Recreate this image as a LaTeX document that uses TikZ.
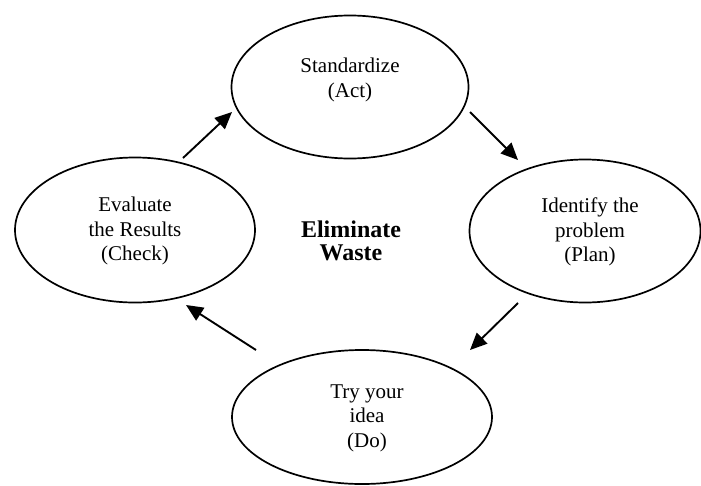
\documentclass[tikz,border=0pt]{standalone}
\usepackage{fontspec}
\setmainfont{Liberation Serif}
\usetikzlibrary{shapes.geometric,arrows.meta}
\begin{document}
\begin{tikzpicture}[x=1pt,y=-1pt,
  oval/.style={draw=black,line width=1.7pt,ellipse,inner sep=0pt},
  lbl/.style={align=center,font=\fontsize{21}{24.5}\selectfont,inner sep=0pt},
  flow/.style={line width=1.9pt,-{Triangle[length=17pt,width=15pt]}}]
\useasboundingbox (0,0) rectangle (701,485);
% ellipses
\node[oval,minimum width=237pt,minimum height=143pt] (act) at (350,87) {};
\node[oval,minimum width=231pt,minimum height=143pt] (plan) at (585,231) {};
\node[oval,minimum width=260pt,minimum height=134pt] (do) at (362,417) {};
\node[oval,minimum width=240pt,minimum height=145pt] (check) at (135,230) {};
% texts
\node[lbl] (tact) at (350,80) {Standardize\\(Act)};
\node[lbl] (tplan) at (590,232) {Identify the\\problem\\(Plan)};
\node[lbl] (tdo) at (367,418) {Try your\\idea\\(Do)};
\node[lbl] (tcheck) at (135,231) {Evaluate\\the Results\\(Check)};
\node[align=center,inner sep=0pt,font=\fontsize{24}{23}\selectfont\bfseries] (core) at (351,241) {Eliminate\\Waste};
% arrow end points
\coordinate (c1) at (183,158); \coordinate (c2) at (232,112);
\coordinate (c3) at (470,112); \coordinate (c4) at (518,160);
\coordinate (c5) at (518,303); \coordinate (c6) at (470,350);
\coordinate (c7) at (256,350); \coordinate (c8) at (186,305);
\draw[flow] (c1) -- (c2);
\draw[flow] (c3) -- (c4);
\draw[flow] (c5) -- (c6);
\draw[flow] (c7) -- (c8);
\end{tikzpicture}
\end{document}
